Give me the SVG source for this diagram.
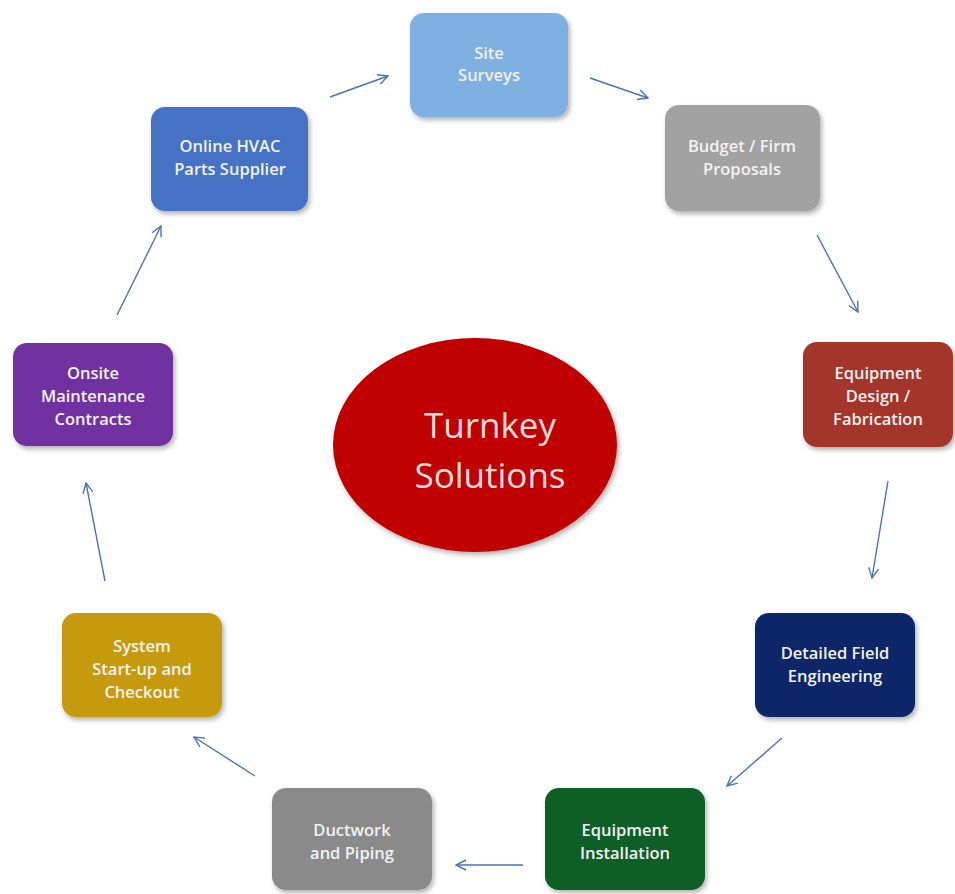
<svg xmlns="http://www.w3.org/2000/svg" width="955" height="894" viewBox="0 0 955 894">
<style>
.box{stroke:none;filter:url(#sh)}
.t{font-family:"Open Sans","Liberation Sans",sans-serif;font-size:16.5px;font-weight:600;fill:#f2f2f2;text-anchor:middle}
.big{font-family:"Open Sans","Liberation Sans",sans-serif;font-size:35px;fill:#f6dede;text-anchor:middle}
.c{fill:none;stroke:#4a72b8;stroke-width:1.4;marker-end:url(#ah)}
</style>
<defs>
<filter id="sh" x="-10%" y="-10%" width="125%" height="130%">
<feDropShadow dx="2" dy="3" stdDeviation="2.5" flood-color="#000" flood-opacity="0.3"/>
</filter>
<marker id="ah" viewBox="0 0 12 12" refX="11" refY="6" markerWidth="12" markerHeight="12" markerUnits="userSpaceOnUse" orient="auto">
<path d="M1,1 L11,6 L1,11" fill="none" stroke="#4a72b8" stroke-width="1.4"/>
</marker>
</defs>
<rect width="955" height="894" fill="#fff"/>
<g id="center">
<ellipse cx="475" cy="445" rx="142" ry="107" fill="#c00000" filter="url(#sh)"/>
<text class="big" x="490" y="438">Turnkey</text>
<text class="big" x="490" y="488">Solutions</text>
</g>
<g id="site-surveys">
<rect class="box" x="410" y="13" width="158" height="104" rx="14" fill="#7eb0e2"/>
<text class="t" x="489" y="59">Site</text>
<text class="t" x="489" y="81">Surveys</text>
</g>
<g id="budget">
<rect class="box" x="665" y="105" width="155" height="106" rx="14" fill="#a2a2a2"/>
<text class="t" x="742" y="152">Budget / Firm</text>
<text class="t" x="742" y="175">Proposals</text>
</g>
<g id="equipment-design">
<rect class="box" x="803" y="342" width="150" height="105" rx="14" fill="#a4352a"/>
<text class="t" x="878" y="379">Equipment</text>
<text class="t" x="878" y="402">Design /</text>
<text class="t" x="878" y="425">Fabrication</text>
</g>
<g id="detailed-field">
<rect class="box" x="755" y="613" width="160" height="104" rx="14" fill="#0d2568"/>
<text class="t" x="835" y="659">Detailed Field</text>
<text class="t" x="835" y="682">Engineering</text>
</g>
<g id="equipment-installation">
<rect class="box" x="545" y="788" width="160" height="102" rx="14" fill="#0b5f28"/>
<text class="t" x="625" y="836">Equipment</text>
<text class="t" x="625" y="859">Installation</text>
</g>
<g id="ductwork">
<rect class="box" x="272" y="788" width="160" height="102" rx="14" fill="#8a8a8a"/>
<text class="t" x="352" y="836">Ductwork</text>
<text class="t" x="352" y="859">and Piping</text>
</g>
<g id="system-startup">
<rect class="box" x="62" y="613" width="160" height="104" rx="14" fill="#c59a08"/>
<text class="t" x="142" y="652">System</text>
<text class="t" x="142" y="675">Start-up and</text>
<text class="t" x="142" y="698">Checkout</text>
</g>
<g id="onsite-maintenance">
<rect class="box" x="13" y="343" width="160" height="103" rx="14" fill="#7030a0"/>
<text class="t" x="93" y="379">Onsite</text>
<text class="t" x="93" y="402">Maintenance</text>
<text class="t" x="93" y="425">Contracts</text>
</g>
<g id="online-hvac">
<rect class="box" x="151" y="107" width="157" height="104" rx="14" fill="#4472c4"/>
<text class="t" x="230" y="152">Online HVAC</text>
<text class="t" x="230" y="175">Parts Supplier</text>
</g>
<g id="connectors">
<line class="c" x1="330" y1="97" x2="388" y2="76"/>
<line class="c" x1="590" y1="78" x2="648" y2="98"/>
<line class="c" x1="817" y1="235" x2="858" y2="312"/>
<line class="c" x1="888" y1="481" x2="872" y2="578"/>
<line class="c" x1="782" y1="738" x2="727" y2="786"/>
<line class="c" x1="523" y1="865" x2="456" y2="865"/>
<line class="c" x1="255" y1="776" x2="194" y2="737"/>
<line class="c" x1="105" y1="581" x2="86" y2="483"/>
<line class="c" x1="117" y1="315" x2="161" y2="226"/>
</g>
</svg>
